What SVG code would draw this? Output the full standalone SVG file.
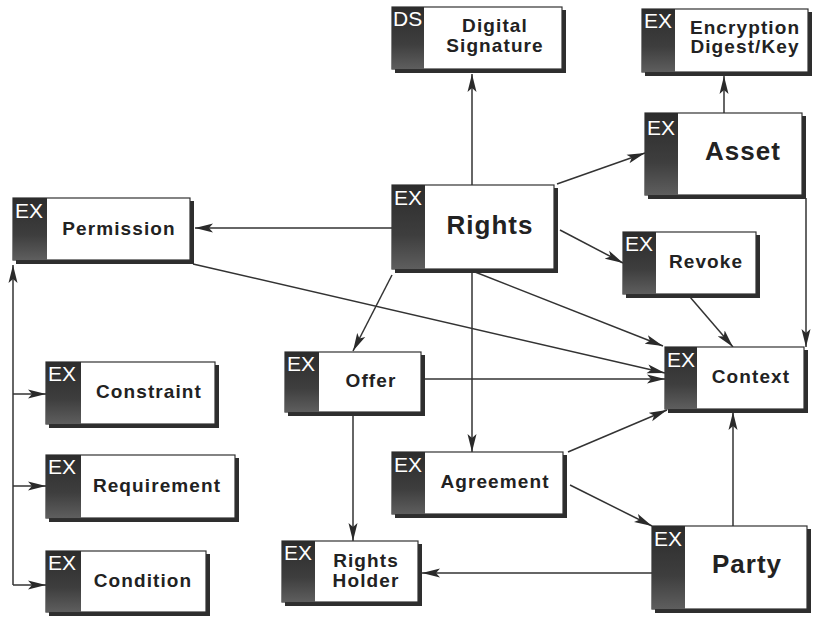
<svg xmlns="http://www.w3.org/2000/svg" width="814" height="617" viewBox="0 0 814 617">
<defs>
<linearGradient id="strip" x1="0" y1="0" x2="0" y2="1">
<stop offset="0" stop-color="#2c2c2c"/>
<stop offset="0.6" stop-color="#3e3e3e"/>
<stop offset="1" stop-color="#5e5e5e"/>
</linearGradient>
<marker id="ah" viewBox="0 0 18 10" refX="18" refY="5" markerWidth="18" markerHeight="10" markerUnits="userSpaceOnUse" orient="auto-start-reverse">
<path d="M0,0.5 L18,5 L0,9.5 L4,5 z" fill="#2a2a2a"/>
</marker>
<style>
.sh{fill:#2e2e2e}
.bx{fill:#fff;stroke:#333;stroke-width:1.2}
.st{fill:url(#strip)}
.ex{font-family:"Liberation Sans",Arial,sans-serif;font-size:21px;fill:#fff}
.t{font-family:"Liberation Sans",Arial,sans-serif;font-weight:bold;font-size:19px;letter-spacing:1.1px;fill:#222;text-anchor:middle}
.tb{font-family:"Liberation Sans",Arial,sans-serif;font-weight:bold;font-size:26px;letter-spacing:1px;fill:#222;text-anchor:middle}
.c{fill:none;stroke:#333;stroke-width:1.5;marker-end:url(#ah)}
</style>
</defs>
<rect width="814" height="617" fill="#fff"/>
<g id="connectors">
<path class="c" d="M472,185 L472,74"/>
<path class="c" d="M557,184 L645,153"/>
<path class="c" d="M724,113 L724,76"/>
<path class="c" d="M392,228 L195,228"/>
<path class="c" d="M560,230 L623,263"/>
<path class="c" d="M690,297 L733,347"/>
<path class="c" d="M806,198 L806,347"/>
<path class="c" d="M475,272 L663,346"/>
<path class="c" d="M193,264 L665,373"/>
<path class="c" d="M424,379 L665,379"/>
<path class="c" d="M392,275 L353,351"/>
<path class="c" d="M472,272 L472,452"/>
<path class="c" d="M353,415 L353,541"/>
<path class="c" d="M568,452 L667,410"/>
<path class="c" d="M570,485 L652,526"/>
<path class="c" d="M733,526 L733,412"/>
<path class="c" d="M652,573 L422,573"/>
<path class="c" d="M13,585 L13,265"/>
<path class="c" d="M13,394 L46,394"/>
<path class="c" d="M13,486 L46,486"/>
<path class="c" d="M13,585 L46,585"/>
</g>
<g id="digital-signature">
<rect class="sh" x="395" y="10" width="171" height="63"/>
<rect class="bx" x="392" y="7" width="170" height="62"/>
<rect class="st" x="392" y="7" width="32" height="62"/>
<text class="ex" x="393" y="26">DS</text>
<text class="t" x="495" y="32">Digital</text>
<text class="t" x="495" y="52">Signature</text>
</g>
<g id="encryption">
<rect class="sh" x="645" y="12" width="167" height="64"/>
<rect class="bx" x="642" y="9" width="166" height="63"/>
<rect class="st" x="642" y="9" width="33" height="63"/>
<text class="ex" x="644" y="28">EX</text>
<text class="t" x="745" y="34">Encryption</text>
<text class="t" x="745" y="53">Digest/Key</text>
</g>
<g id="asset">
<rect class="sh" x="648" y="116" width="158" height="83"/>
<rect class="bx" x="645" y="113" width="157" height="82"/>
<rect class="st" x="645" y="113" width="33" height="82"/>
<text class="ex" x="647" y="135">EX</text>
<text class="tb" x="743" y="160">Asset</text>
</g>
<g id="rights">
<rect class="sh" x="395" y="188" width="163" height="85"/>
<rect class="bx" x="392" y="185" width="162" height="84"/>
<rect class="st" x="392" y="185" width="33" height="84"/>
<text class="ex" x="394" y="205">EX</text>
<text class="tb" x="490" y="234">Rights</text>
</g>
<g id="permission">
<rect class="sh" x="16" y="201" width="178" height="63"/>
<rect class="bx" x="13" y="198" width="177" height="62"/>
<rect class="st" x="13" y="198" width="34" height="62"/>
<text class="ex" x="15" y="218">EX</text>
<text class="t" x="119" y="235">Permission</text>
</g>
<g id="revoke">
<rect class="sh" x="626" y="235" width="134" height="63"/>
<rect class="bx" x="623" y="232" width="133" height="62"/>
<rect class="st" x="623" y="232" width="33" height="62"/>
<text class="ex" x="625" y="251">EX</text>
<text class="t" x="706" y="268">Revoke</text>
</g>
<g id="context">
<rect class="sh" x="668" y="350" width="140" height="63"/>
<rect class="bx" x="665" y="347" width="139" height="62"/>
<rect class="st" x="665" y="347" width="32" height="62"/>
<text class="ex" x="667" y="367">EX</text>
<text class="t" x="751" y="383">Context</text>
</g>
<g id="offer">
<rect class="sh" x="288" y="355" width="137" height="61"/>
<rect class="bx" x="285" y="352" width="136" height="60"/>
<rect class="st" x="285" y="352" width="34" height="60"/>
<text class="ex" x="287" y="371">EX</text>
<text class="t" x="371" y="387">Offer</text>
</g>
<g id="constraint">
<rect class="sh" x="49" y="365" width="170" height="63"/>
<rect class="bx" x="46" y="362" width="169" height="62"/>
<rect class="st" x="46" y="362" width="35" height="62"/>
<text class="ex" x="48" y="381">EX</text>
<text class="t" x="149" y="398">Constraint</text>
</g>
<g id="requirement">
<rect class="sh" x="49" y="458" width="190" height="64"/>
<rect class="bx" x="46" y="455" width="189" height="63"/>
<rect class="st" x="46" y="455" width="35" height="63"/>
<text class="ex" x="48" y="474">EX</text>
<text class="t" x="157" y="492">Requirement</text>
</g>
<g id="condition">
<rect class="sh" x="49" y="554" width="161" height="62"/>
<rect class="bx" x="46" y="551" width="160" height="61"/>
<rect class="st" x="46" y="551" width="35" height="61"/>
<text class="ex" x="48" y="570">EX</text>
<text class="t" x="143" y="587">Condition</text>
</g>
<g id="rights-holder">
<rect class="sh" x="285" y="544" width="137" height="62"/>
<rect class="bx" x="282" y="541" width="136" height="61"/>
<rect class="st" x="282" y="541" width="33" height="61"/>
<text class="ex" x="284" y="560">EX</text>
<text class="t" x="366" y="567">Rights</text>
<text class="t" x="366" y="587">Holder</text>
</g>
<g id="agreement">
<rect class="sh" x="395" y="455" width="172" height="63"/>
<rect class="bx" x="392" y="452" width="171" height="62"/>
<rect class="st" x="392" y="452" width="33" height="62"/>
<text class="ex" x="394" y="472">EX</text>
<text class="t" x="495" y="488">Agreement</text>
</g>
<g id="party">
<rect class="sh" x="655" y="529" width="156" height="84"/>
<rect class="bx" x="652" y="526" width="155" height="83"/>
<rect class="st" x="652" y="526" width="33" height="83"/>
<text class="ex" x="654" y="546">EX</text>
<text class="tb" x="747" y="573">Party</text>
</g>
</svg>
